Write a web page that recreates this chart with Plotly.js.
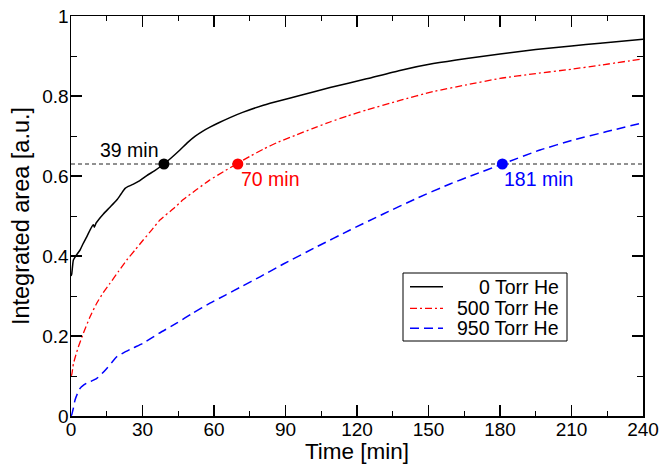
<!DOCTYPE html>
<html>
<head>
<meta charset="utf-8">
<script src="https://cdn.plot.ly/plotly-3.0.1.min.js"></script>
<style>html,body{margin:0;padding:0;background:#fff;}#chart{width:662px;height:464px;}</style>
</head>
<body>
<div id="chart"></div>
<script>
// ---- data ----
const seriesNames = ["0 Torr He", "500 Torr He", "950 Torr He"];
const seriesColors = ["#000000", "#ff0000", "#0000ff"];

const t0 = [0, 0.3, 1, 2, 3.8, 5, 6.6, 8, 8.7, 9.4, 9.8, 10.5, 13.6, 16, 19.2, 21, 22.7, 24, 26, 28.5, 31.8, 35, 39, 42, 45.7, 49, 52, 55, 58.3, 62, 66.7, 72, 80.7, 88, 96, 108.7, 124, 138, 152, 166, 180, 195, 210, 222, 240];
const v0 = [0.35, 0.355, 0.39, 0.40, 0.415, 0.43, 0.448, 0.465, 0.473, 0.478, 0.472, 0.482, 0.505, 0.52, 0.54, 0.555, 0.569, 0.574, 0.579, 0.587, 0.601, 0.613, 0.63, 0.645, 0.665, 0.684, 0.699, 0.711, 0.722, 0.733, 0.746, 0.759, 0.777, 0.789, 0.801, 0.821, 0.843, 0.864, 0.881, 0.894, 0.905, 0.916, 0.925, 0.932, 0.942];

const t500 = [0, 0.3, 1, 2, 3.1, 5.2, 8, 10.8, 13.5, 16.4, 20, 23.4, 27, 30.3, 34, 37.3, 42.9, 47.1, 52.7, 58, 64, 69.5, 75, 80.7, 87, 94.7, 101, 108.7, 116, 124, 138, 152, 166, 180, 195, 210, 222, 240];
const v500 = [0.10, 0.103, 0.13, 0.152, 0.173, 0.207, 0.248, 0.282, 0.308, 0.332, 0.362, 0.39, 0.416, 0.44, 0.466, 0.49, 0.518, 0.541, 0.566, 0.589, 0.611, 0.63, 0.649, 0.667, 0.685, 0.703, 0.718, 0.735, 0.75, 0.765, 0.789, 0.811, 0.828, 0.844, 0.856, 0.867, 0.877, 0.893];

const t950 = [0, 0.3, 1, 1.7, 2.7, 3.8, 5, 6.6, 8.5, 10.8, 13, 15, 17, 19.2, 22, 26, 30.3, 37, 44.3, 51, 58.3, 65, 72, 79.3, 89.1, 103.1, 117.1, 131, 145, 159, 168.8, 181, 196.8, 210.8, 224.8, 240];
const v950 = [0, 0.003, 0.02, 0.04, 0.056, 0.069, 0.076, 0.082, 0.087, 0.094, 0.106, 0.119, 0.133, 0.148, 0.158, 0.17, 0.182, 0.207, 0.232, 0.257, 0.282, 0.303, 0.325, 0.348, 0.38, 0.423, 0.465, 0.505, 0.544, 0.58, 0.6025, 0.63, 0.665, 0.69, 0.711, 0.733];

const thresholdValue = 0.63;
const thresholdRange = [0, 240];
const crossTimes = [39, 70, 181];
const crossLabels = ["39 min", "70 min", "181 min"];

const xTickVals = [0, 30, 60, 90, 120, 150, 180, 210, 240];
const yTickVals = [0, 0.2, 0.4, 0.6, 0.8, 1];
const yTickText = ["0", "0.2", "0.4", "0.6", "0.8", "1"];

// ---- styles ----
const FONT = "Liberation Sans, Arial, sans-serif";
const dashes = ["solid", "7px,3px,2px,3px", "9px,5px"];
const widths = [1.5, 1.3, 1.5];

const traces = [];
traces.push({
  x: thresholdRange, y: [thresholdValue, thresholdValue], mode: "lines",
  line: {color: "#222222", width: 1, dash: "4px,3px"}, showlegend: false, hoverinfo: "skip"
});
const xs = [t0, t500, t950], ys = [v0, v500, v950];
for (let i = 0; i < 3; i++) {
  traces.push({x: xs[i], y: ys[i], mode: "lines", name: seriesNames[i],
    line: {color: seriesColors[i], width: widths[i], dash: dashes[i], shape: "spline", smoothing: 0.5}, showlegend: false});
}
for (let i = 0; i < 3; i++) {
  traces.push({x: [crossTimes[i]], y: [thresholdValue], mode: "markers",
    marker: {color: seriesColors[i], size: 11}, showlegend: false, hoverinfo: "skip"});
}

// label annotations
const annotations = [
  {x: crossTimes[0], y: thresholdValue, text: crossLabels[0], showarrow: false, xanchor: "right", yanchor: "middle", xshift: -3, yshift: 14, font: {family: FONT, size: 19.5, color: seriesColors[0]}},
  {x: crossTimes[1], y: thresholdValue, text: crossLabels[1], showarrow: false, xanchor: "left", yanchor: "middle", xshift: 1, yshift: -15, font: {family: FONT, size: 19.5, color: seriesColors[1]}},
  {x: crossTimes[2], y: thresholdValue, text: crossLabels[2], showarrow: false, xanchor: "left", yanchor: "middle", xshift: 0, yshift: -15, font: {family: FONT, size: 19.5, color: seriesColors[2]}}
];

// manual legend (paper coords of plot area)
const L = 71, R = 643, T = 16, B = 416;
const px = v => (v - L) / (R - L);
const py = v => (B - v) / (B - T);
const shapes = [{type: "rect", xref: "paper", yref: "paper", x0: px(403), x1: px(567), y0: py(341), y1: py(273), line: {color: "#000", width: 1}, fillcolor: "#fff"}];
const rowY = [286.7, 308.3, 328.3];
for (let i = 0; i < 3; i++) {
  shapes.push({type: "line", xref: "paper", yref: "paper", x0: px(410), x1: px(443), y0: py(rowY[i]), y1: py(rowY[i]),
    line: {color: seriesColors[i], width: widths[i], dash: dashes[i]}});
  annotations.push({xref: "paper", yref: "paper", x: px(561), y: py(rowY[i]), text: seriesNames[i], showarrow: false,
    xanchor: "right", yanchor: "middle", font: {family: FONT, size: 19.5, color: "#000"}});
}

const axisCommon = {
  showline: true, linecolor: "#000", linewidth: 1.5, mirror: "ticks",
  ticks: "inside", ticklen: 11, tickwidth: 1.2, tickcolor: "#000",
  showgrid: false, zeroline: false,
  tickfont: {family: FONT, size: 19, color: "#000"}
};

const layout = {
  width: 662, height: 464,
  margin: {l: L, r: 662 - R, t: T, b: 464 - B},
  paper_bgcolor: "#fff", plot_bgcolor: "#fff",
  showlegend: false,
  font: {family: FONT, color: "#000"},
  xaxis: Object.assign({}, axisCommon, {
    range: [0, 240], tickmode: "array", tickvals: xTickVals, ticklabelstandoff: -4,
    minor: {dtick: 15, ticks: "inside", ticklen: 5, tickwidth: 1, tickcolor: "#000"},
    title: {text: "Time [min]", font: {family: FONT, size: 22.5, color: "#000"}, standoff: 9}
  }),
  yaxis: Object.assign({}, axisCommon, {
    range: [0, 1], tickmode: "array", tickvals: yTickVals, ticktext: yTickText, ticklabelstandoff: -3,
    minor: {dtick: 0.1, ticks: "inside", ticklen: 6, tickwidth: 1, tickcolor: "#000"},
    title: {text: "Integrated area [a.u.]", font: {family: FONT, size: 23.5, color: "#000"}, standoff: 6}
  }),
  shapes: shapes,
  annotations: annotations
};

Plotly.newPlot("chart", traces, layout, {displayModeBar: false, staticPlot: true});
</script>
</body>
</html>
